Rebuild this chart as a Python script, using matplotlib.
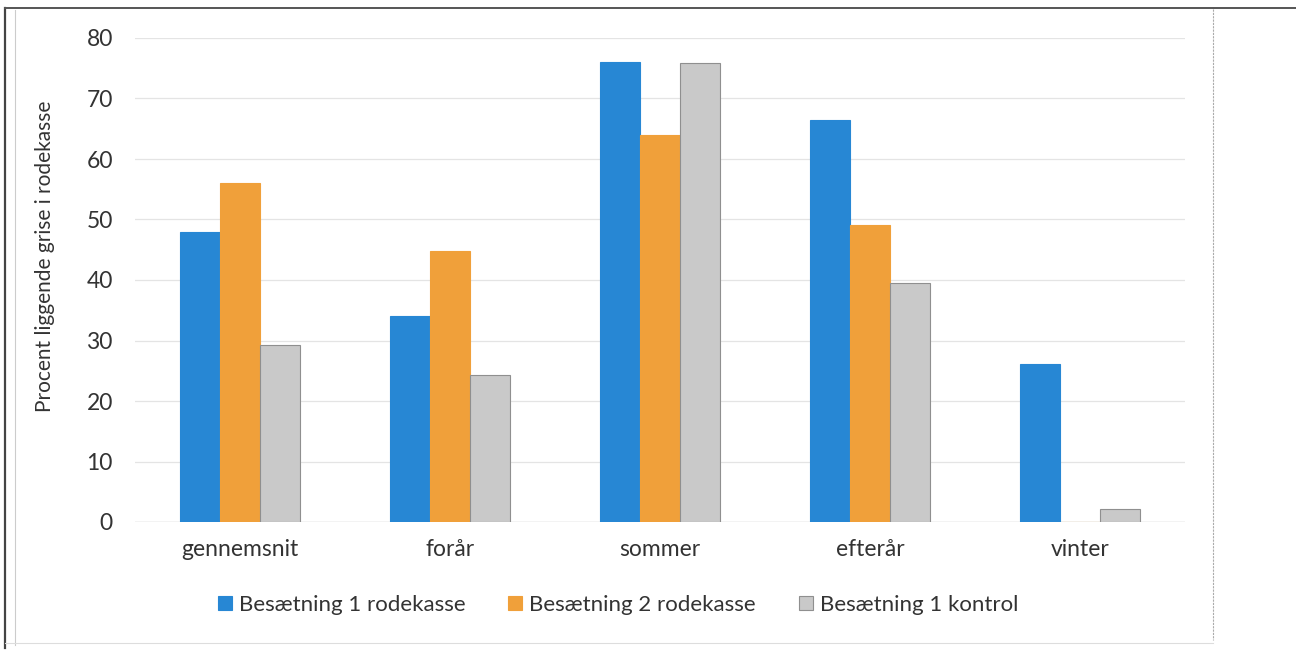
import numpy as np
import matplotlib.pyplot as plt
from matplotlib.lines import Line2D

plt.rcParams['font.family'] = ['Lato', 'DejaVu Sans']

categories = ['gennemsnit', 'forår', 'sommer', 'efterår', 'vinter']
series_names = ['Besætning 1 rodekasse', 'Besætning 2 rodekasse', 'Besætning 1 kontrol']
b1_rodekasse = [48.0, 34.1, 76.1, 66.4, 26.1]
b2_rodekasse = [56.1, 44.8, 64.0, 49.1, 0.0]
b1_kontrol = [29.3, 24.3, 75.9, 39.5, 2.1]

colors = ['#2787d4', '#f0a03a', '#c9c9c9']
edges = ['#2787d4', '#f0a03a', '#8f8f8f']

fig = plt.figure(figsize=(12.96, 6.56), dpi=100)
ax = fig.add_axes([135 / 1296, 1 - 522 / 656, 1050 / 1296, 484 / 656])

x = np.arange(len(categories))
w = 0.192
for i, vals in enumerate([b1_rodekasse, b2_rodekasse, b1_kontrol]):
    ax.bar(x + (i - 1) * w, vals, w, color=colors[i], edgecolor=edges[i],
           linewidth=0.8, label=series_names[i], zorder=3)

ax.set_xlim(-0.5, 4.5)
ax.set_ylim(0, 80)
ax.set_yticks(range(0, 81, 10))
ax.set_xticks(x)
ax.set_xticklabels(categories)
ax.tick_params(axis='both', length=0, labelsize=16.5, colors='#333333')
ax.tick_params(axis='y', pad=16)
ax.tick_params(axis='x', pad=12)
ax.grid(axis='y', color='#e4e4e4', linewidth=0.9, zorder=0)
for s in ax.spines.values():
    s.set_visible(False)
ax.axhline(0, color='#d6d6d6', linewidth=1.0, zorder=2)

fig.text(45 / 1296, 1 - 256 / 656, 'Procent liggende grise i rodekasse', rotation=90,
         ha='center', va='center', fontsize=15, color='#333333')

# legend is centred on the whole chart box, not on the plot area
ax.legend(loc='center', bbox_to_anchor=(618 / 1296, 1 - 605 / 656), bbox_transform=fig.transFigure,
          ncol=3, frameon=False, fontsize=16, handlelength=0.63, handleheight=0.63,
          handletextpad=0.3, columnspacing=1.95, labelcolor='#333333', borderpad=0)

# outer frame of the scanned chart
fig.add_artist(Line2D([5 / 1296, 5 / 1296], [1 - 8 / 656, 1 - 648 / 656], transform=fig.transFigure,
                      color='#444444', linewidth=1.6))
fig.add_artist(Line2D([15 / 1296, 15 / 1296], [1 - 10 / 656, 1 - 645 / 656], transform=fig.transFigure,
                      color='#cccccc', linewidth=0.8))
fig.add_artist(Line2D([5 / 1296, 1296 / 1296], [1 - 8 / 656, 1 - 8 / 656], transform=fig.transFigure,
                      color='#555555', linewidth=1.4))
fig.add_artist(Line2D([1213 / 1296, 1213 / 1296], [1 - 9 / 656, 1 - 640 / 656], transform=fig.transFigure,
                      color='#aaaaaa', linewidth=0.8, linestyle=(0, (2, 1))))
fig.add_artist(Line2D([5 / 1296, 1213 / 1296], [1 - 643 / 656, 1 - 643 / 656], transform=fig.transFigure,
                      color='#dddddd', linewidth=0.8))

fig.savefig('out.png', dpi=100)
